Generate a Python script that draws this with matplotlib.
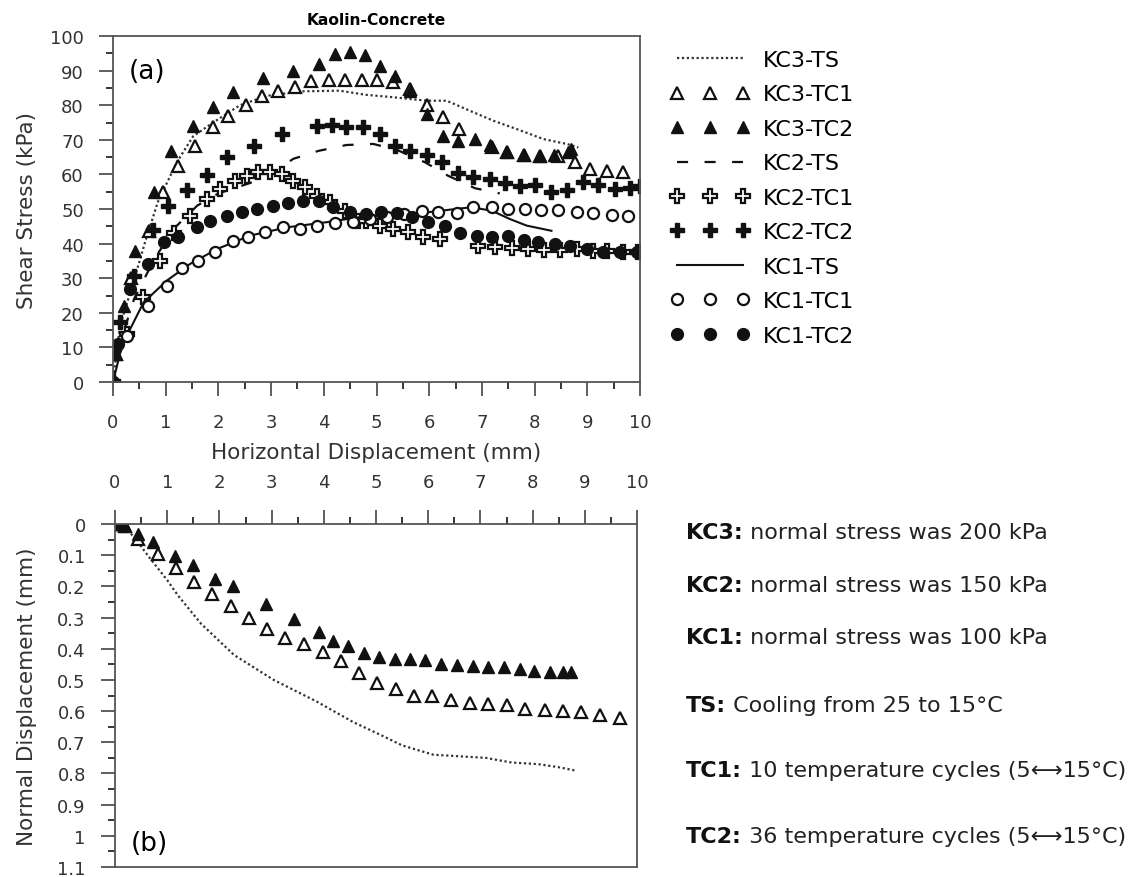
import numpy as np
import matplotlib.pyplot as plt
from matplotlib.ticker import MultipleLocator, FuncFormatter

## shear stress (kPa) vs horizontal displacement (mm), top panel
kc3_ts_x = [0, 0.13, 0.39, 0.6, 0.85, 1.21, 1.52, 1.9, 2.41, 2.92, 3.55, 4.3, 4.8, 5.32, 5.95, 6.33, 6.77, 7.22, 7.66, 8.17, 8.61, 8.83]
kc3_ts_y = [0, 16, 29, 40, 52, 63.5, 71, 75, 80, 82.7, 84, 84.2, 83, 82.3, 81.3, 81.3, 78.4, 75.5, 73.1, 70.2, 68.8, 67.8]

kc3_tc1_x = [0, 0.05, 0.35, 0.69, 0.95, 1.24, 1.56, 1.9, 2.19, 2.52, 2.82, 3.14, 3.45, 3.75, 4.09, 4.4, 4.72, 5.0, 5.32,
             5.64, 5.95, 6.27, 6.57, 7.19, 7.47, 7.79, 8.1, 8.45, 8.77, 9.05, 9.38, 9.68]
kc3_tc1_y = [0, 8, 30, 43.7, 54.8, 62.5, 68.3, 73.6, 76.8, 80.1, 82.7, 84.2, 85.2, 87.1, 87.4, 87.4, 87.4, 87.4, 86.8,
             84.7, 80.1, 76.5, 73.1, 67.8, 66.6, 65.6, 65.3, 65.2, 63.7, 61.6, 61.1, 60.8]

kc3_tc2_x = [0, 0.05, 0.2, 0.42, 0.77, 1.11, 1.52, 1.9, 2.28, 2.85, 3.42, 3.9, 4.21, 4.5, 4.78, 5.07, 5.35, 5.64, 5.95,
             6.27, 6.55, 6.87, 7.15, 7.47, 7.79, 8.1, 8.36, 8.64, 8.7]
kc3_tc2_y = [0, 8, 22, 38, 54.8, 66.8, 73.9, 79.4, 83.9, 87.9, 90, 91.9, 94.8, 95.5, 94.5, 91.4, 88.5, 84.2, 77.5,
             71, 69.7, 70.2, 68.5, 66.6, 65.6, 65.4, 65.6, 66.6, 67.3]

kc2_ts_x = [0, 0.15, 0.4, 0.8, 1.2, 1.6, 2.0, 2.5, 2.92, 3.42, 3.9, 4.43, 4.94, 5.4, 5.92, 6.36, 6.87, 7.34]
kc2_ts_y = [0, 12, 24, 36, 45, 51, 54.5, 57, 59.2, 64.5, 66.8, 68.5, 68.8, 67, 63.5, 59.6, 56, 54.5]

kc2_tc1_x = [0, 0.26, 0.57, 0.89, 1.15, 1.46, 1.78, 2.03, 2.31, 2.54, 2.76, 2.98, 3.2, 3.42, 3.64, 3.87, 4.12, 4.4, 4.65,
             4.81, 5.07, 5.32, 5.6, 5.89, 6.2, 6.93, 7.25, 7.57, 7.88, 8.17, 8.48, 8.8, 9.11, 9.37, 9.68, 9.97]
kc2_tc1_y = [0, 13.9, 24.5, 35.1, 43, 48.1, 52.9, 55.8, 58.2, 59.6, 60.6, 60.8, 60.1, 58.2, 56.3, 53.8, 51.9, 49.5, 46.6,
             46.6, 45.2, 44.2, 43.3, 41.8, 41.3, 39.4, 38.9, 38.6, 38.4, 38.2, 38.2, 38.4, 37.9, 37.9, 37.7, 37.5]

kc2_tc2_x = [0, 0.13, 0.39, 0.75, 1.05, 1.41, 1.78, 2.16, 2.68, 3.2, 3.87, 4.15, 4.43, 4.75, 5.07, 5.35, 5.64, 5.95, 6.24,
             6.55, 6.84, 7.15, 7.44, 7.72, 8.01, 8.32, 8.61, 8.92, 9.21, 9.53, 9.81, 10.0]
kc2_tc2_y = [0, 17.3, 30.7, 44, 51, 55.5, 59.9, 64.9, 68.3, 71.7, 73.9, 74.3, 73.6, 73.6, 71.7, 68.1, 66.8, 65.6, 63.5,
             60.4, 59.2, 58.7, 57.5, 56.7, 57, 55, 55.6, 57.7, 56.9, 55.8, 56, 56.7]

kc1_ts_x = [0, 0.13, 0.23, 0.58, 1.02, 1.46, 1.97, 2.6, 3.3, 4.06, 4.75, 5.4, 5.95, 6.5, 6.8, 7.19, 7.53, 7.85, 8.32]
kc1_ts_y = [0, 8, 12.4, 23, 29.3, 34.1, 38.4, 42.3, 44.7, 46.2, 47.8, 48.5, 49, 50, 50.5, 49.5, 47.1, 45.2, 43.7]

kc1_tc1_x = [0, 0.26, 0.67, 1.02, 1.3, 1.62, 1.94, 2.28, 2.57, 2.89, 3.23, 3.55, 3.87, 4.21, 4.56, 4.88, 5.2, 5.53,
             5.86, 6.17, 6.52, 6.84, 7.19, 7.5, 7.82, 8.13, 8.45, 8.8, 9.11, 9.46, 9.78]
kc1_tc1_y = [0, 13.4, 22.1, 27.7, 32.9, 34.9, 37.5, 40.8, 41.8, 43.3, 44.7, 44.2, 45.2, 46, 46.2, 47, 47.8, 48.5,
             49.5, 49.2, 48.8, 50.5, 50.5, 50, 50, 49.7, 49.7, 49, 48.8, 48.3, 47.9]

kc1_tc2_x = [0, 0.1, 0.32, 0.67, 0.96, 1.24, 1.59, 1.84, 2.16, 2.44, 2.73, 3.04, 3.33, 3.61, 3.9, 4.18, 4.5, 4.81,
             5.09, 5.38, 5.67, 5.98, 6.3, 6.58, 6.9, 7.2, 7.5, 7.79, 8.07, 8.39, 8.67, 8.99, 9.29, 9.62, 9.94]
kc1_tc2_y = [0, 11, 26.9, 34.1, 40.4, 41.8, 44.7, 46.6, 48.1, 49, 50, 50.8, 51.7, 52.4, 52.4, 50.5, 49, 48.6,
             49.2, 48.8, 47.6, 46.3, 45, 43, 42.3, 41.8, 42.1, 41.1, 40.4, 39.9, 39.4, 38.4, 37.5, 37.5, 37.5]

## normal displacement (mm) vs horizontal displacement (mm), bottom panel
nd_ts_x = [0, 0.2, 0.4, 0.67, 1.0, 1.21, 1.65, 2.28, 3.04, 3.87, 4.56, 5.07, 5.5, 6.1, 6.6, 7.1, 7.6, 8.1, 8.5, 8.8]
nd_ts_y = [0, 0.01, 0.05, 0.11, 0.18, 0.23, 0.32, 0.42, 0.5, 0.57, 0.635, 0.675, 0.71, 0.74, 0.745, 0.75, 0.765, 0.77, 0.78, 0.79]

nd_tc1_x = [0, 0.1, 0.2, 0.45, 0.82, 1.16, 1.51, 1.86, 2.22, 2.57, 2.92, 3.26, 3.62, 3.98, 4.32, 4.67, 5.02, 5.38, 5.73,
            6.08, 6.43, 6.81, 7.15, 7.5, 7.85, 8.23, 8.58, 8.92, 9.29, 9.67]
nd_tc1_y = [0, 0, 0.005, 0.048, 0.096, 0.141, 0.187, 0.225, 0.263, 0.303, 0.336, 0.365, 0.386, 0.41, 0.44, 0.477, 0.509,
            0.53, 0.55, 0.552, 0.563, 0.573, 0.576, 0.579, 0.593, 0.595, 0.6, 0.603, 0.611, 0.622]

nd_tc2_x = [0, 0.1, 0.2, 0.45, 0.73, 1.15, 1.49, 1.92, 2.27, 2.89, 3.43, 3.9, 4.18, 4.47, 4.77, 5.06, 5.36, 5.65, 5.94,
            6.24, 6.56, 6.86, 7.15, 7.45, 7.76, 8.03, 8.33, 8.58, 8.73]
nd_tc2_y = [0, 0, 0.005, 0.032, 0.057, 0.104, 0.132, 0.175, 0.198, 0.257, 0.305, 0.346, 0.375, 0.391, 0.415, 0.427,
            0.432, 0.432, 0.437, 0.448, 0.453, 0.455, 0.46, 0.46, 0.466, 0.471, 0.476, 0.476, 0.476]

notes = [('KC3:', ' normal stress was 200 kPa'),
         ('KC2:', ' normal stress was 150 kPa'),
         ('KC1:', ' normal stress was 100 kPa'),
         ('TS:', ' Cooling from 25 to 15°C'),
         ('TC1:', ' 10 temperature cycles (5⟷15°C)'),
         ('TC2:', ' 36 temperature cycles (5⟷15°C)')]
note_y = [533, 586, 638, 706, 771, 837]

fig = plt.figure(figsize=(11.3, 8.78), dpi=100)
W, H = 1130, 878
ax1 = fig.add_axes([113 / W, 1 - 383 / H, 527 / W, 346 / H])
ax2 = fig.add_axes([115 / W, 1 - 868 / H, 522 / W, 343 / H])

ink = '#111111'
open_kw = dict(markerfacecolor='white', markeredgecolor=ink, markeredgewidth=1.6)
fill_kw = dict(markerfacecolor=ink, markeredgecolor=ink)
dots = (0, (1, 1.2))
dashes = (0, (5.0, 7.4))

ax1.plot(kc3_ts_x, kc3_ts_y, color='#333333', ls=dots, lw=1.6, label='KC3-TS')
ax1.plot(kc3_tc1_x, kc3_tc1_y, ls='none', marker='^', ms=8.5, label='KC3-TC1', **open_kw)
ax1.plot(kc3_tc2_x, kc3_tc2_y, ls='none', marker='^', ms=9, label='KC3-TC2', **fill_kw)
ax1.plot(kc2_ts_x, kc2_ts_y, color=ink, ls=dashes, lw=1.6, label='KC2-TS')
ax1.plot(kc2_tc1_x, kc2_tc1_y, ls='none', marker='P', ms=10, label='KC2-TC1', **open_kw)
ax1.plot(kc2_tc2_x, kc2_tc2_y, ls='none', marker='P', ms=10, label='KC2-TC2', **fill_kw)
ax1.plot(kc1_ts_x, kc1_ts_y, color=ink, ls='-', lw=1.5, label='KC1-TS')
ax1.plot(kc1_tc1_x, kc1_tc1_y, ls='none', marker='o', ms=8, label='KC1-TC1', **open_kw)
ax1.plot(kc1_tc2_x, kc1_tc2_y, ls='none', marker='o', ms=8.5, label='KC1-TC2', **fill_kw)

ax2.plot(nd_ts_x, nd_ts_y, color='#333333', ls=dots, lw=1.6)
ax2.plot(nd_tc1_x, nd_tc1_y, ls='none', marker='^', ms=8.5, **open_kw)
ax2.plot(nd_tc2_x, nd_tc2_y, ls='none', marker='^', ms=9, **fill_kw)

for ax in (ax1, ax2):
    ax.set_xlim(0, 10)
    ax.xaxis.set_major_locator(MultipleLocator(1))
    ax.xaxis.set_minor_locator(MultipleLocator(0.5))
    ax.tick_params(which='major', direction='out', length=10, width=1.1, labelsize=13,
                   colors='#333333', pad=11)
    ax.tick_params(which='minor', direction='out', length=5, width=1.1)
    for s in ax.spines.values():
        s.set_color('#555555')
        s.set_linewidth(1.3)

ax1.set_ylim(0, 100)
ax1.yaxis.set_major_locator(MultipleLocator(10))
ax1.yaxis.set_minor_locator(MultipleLocator(5))
ax1.tick_params(axis='x', which='major', pad=12)
ax1.set_title('Kaolin-Concrete', fontsize=11.2, fontweight='bold', pad=9)
ax1.set_xlabel('Horizontal Displacement (mm)', fontsize=15.5, color='#333333')
ax1.xaxis.set_label_coords(0.5, -0.172)
ax1.set_ylabel('Shear Stress (kPa)', fontsize=15.5, color='#333333')
ax1.yaxis.set_label_coords(-0.144, 0.5)
ax1.text(0.03, 0.9, '(a)', transform=ax1.transAxes, fontsize=19, va='center')

ax2.set_ylim(1.1, 0)
ax2.yaxis.set_major_locator(MultipleLocator(0.1))
ax2.yaxis.set_minor_locator(MultipleLocator(0.05))
ax2.yaxis.set_major_formatter(FuncFormatter(lambda v, p: f'{v:g}'))
ax2.xaxis.tick_top()
ax2.tick_params(axis='x', which='major', pad=14)
ax2.set_ylabel('Normal Displacement (mm)', fontsize=15.5, color='#333333')
ax2.yaxis.set_label_coords(-0.149, 0.5)
ax2.text(0.03, 0.07, '(b)', transform=ax2.transAxes, fontsize=19, va='center')

fig.legend(loc='upper left', bbox_to_anchor=(650 / W, 1 - 31 / H), frameon=False, numpoints=3,
           handlelength=3.6, handletextpad=0.6, labelspacing=0.65, fontsize=16)

## notes on the right, bold key then plain text
for (key, rest), y in zip(notes, note_y):
    t = fig.text(686 / W, 1 - y / H, key, fontsize=16, fontweight='bold', va='center', color=ink)
    ax2.annotate(rest, xy=(1, 0), xycoords=t, va='bottom', fontsize=16, color='#222222',
                 annotation_clip=False)

fig.savefig('out.png', dpi=100)
